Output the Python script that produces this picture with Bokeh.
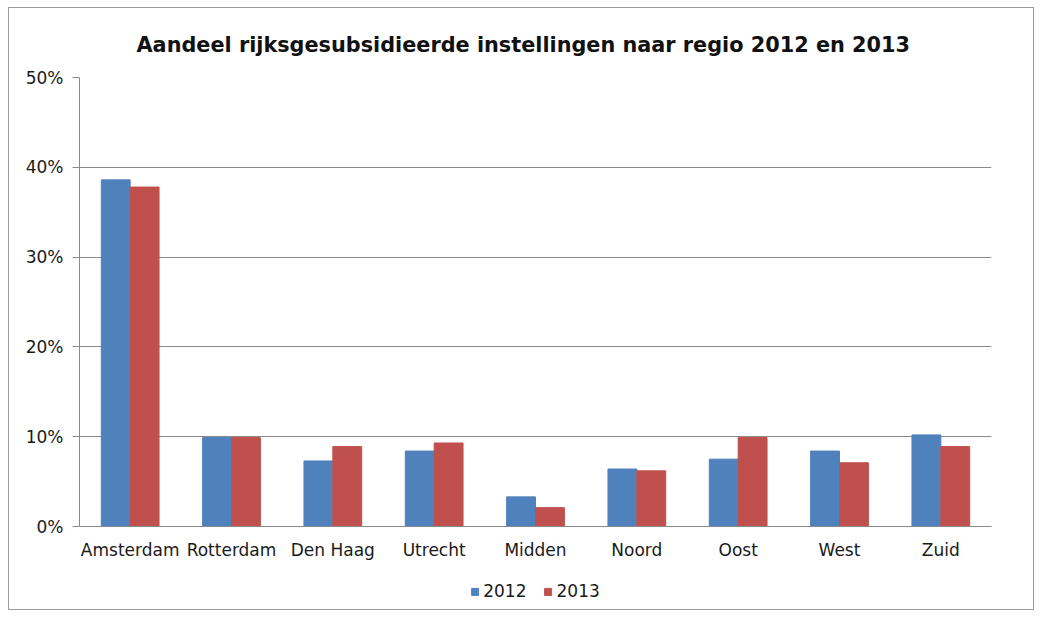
from bokeh.plotting import figure
from bokeh.layouts import column
from bokeh.models import (ColumnDataSource, NumeralTickFormatter, FixedTicker, Legend,
                          LegendItem, Title, Range1d)
from bokeh.transform import dodge
from bokeh.embed import file_html
from bokeh.resources import INLINE

regions = ["Amsterdam", "Rotterdam", "Den Haag", "Utrecht", "Midden", "Noord", "Oost", "West", "Zuid"]
share_2012 = [0.386, 0.099, 0.073, 0.084, 0.033, 0.064, 0.075, 0.084, 0.102]
share_2013 = [0.378, 0.099, 0.089, 0.093, 0.021, 0.062, 0.099, 0.071, 0.089]
series_names = ["2012", "2013"]
y_ticks = [0.0, 0.1, 0.2, 0.3, 0.4, 0.5]
title_text = "Aandeel rijksgesubsidieerde instellingen naar regio 2012 en 2013"

source = ColumnDataSource(dict(region=regions, y2012=share_2012, y2013=share_2013))

FONT = "DejaVu Sans"
GRID = "#8a8a8a"
TXT = "#1a1a1a"
BLUE = "#4f81bd"
RED = "#c0504d"

p = figure(x_range=regions, y_range=Range1d(0, 0.5), width=1024, height=565,
           output_backend="svg", toolbar_location=None,
           min_border_left=70, min_border_right=20,
           min_border_top=69, min_border_bottom=47, title=None)
p.x_range.range_padding = 0

r1 = p.vbar(x=dodge("region", -0.1425, range=p.x_range), top="y2012", width=0.285,
            source=source, fill_color=BLUE, line_color=BLUE)
r2 = p.vbar(x=dodge("region", 0.1425, range=p.x_range), top="y2013", width=0.285,
            source=source, fill_color=RED, line_color=RED)

p.yaxis.ticker = FixedTicker(ticks=y_ticks)
p.yaxis.formatter = NumeralTickFormatter(format="0%")
p.yaxis.major_tick_out = 7
p.yaxis.major_tick_in = 0
p.yaxis.minor_tick_line_color = None
p.yaxis.axis_line_color = GRID
p.yaxis.major_tick_line_color = GRID
p.yaxis.major_label_text_font = FONT
p.yaxis.major_label_text_font_size = "17px"
p.yaxis.major_label_text_color = TXT
p.yaxis.major_label_standoff = 9

p.xaxis.major_tick_line_color = None
p.xaxis.major_tick_out = 0
p.xaxis.major_tick_in = 0
p.xaxis.axis_line_color = GRID
p.xaxis.major_label_text_font = FONT
p.xaxis.major_label_text_font_size = "17px"
p.xaxis.major_label_text_color = TXT
p.xaxis.major_label_standoff = 13

p.xgrid.grid_line_color = None
p.ygrid.grid_line_color = GRID
p.ygrid.grid_line_width = 1
p.outline_line_color = None

t = Title(text=title_text, align="left", text_font=FONT, text_font_size="20.8px",
          text_font_style="bold", text_color="#111111", offset=57, standoff=42)
p.add_layout(t, "above")

# legend strip below the chart (proxy renderers lie outside the visible range)
lf = figure(x_range=series_names, y_range=Range1d(1, 2), width=1024, height=36,
            output_backend="svg", toolbar_location=None,
            x_axis_location=None, y_axis_location=None,
            min_border_left=0, min_border_right=42, min_border_top=0, min_border_bottom=0)
lf.grid.grid_line_color = None
lf.outline_line_color = None
lsrc = ColumnDataSource(dict(name=series_names, top=[0, 0]))
lr1 = lf.vbar(x="name", top="top", width=0.1, source=lsrc, fill_color=BLUE, line_color=BLUE)
lr2 = lf.vbar(x="name", top="top", width=0.1, source=lsrc, fill_color=RED, line_color=RED)
legend = Legend(items=[LegendItem(label=series_names[0], renderers=[lr1], index=0),
                       LegendItem(label=series_names[1], renderers=[lr2], index=1)],
                orientation="horizontal", location="center",
                border_line_color=None, background_fill_alpha=0,
                label_text_font=FONT, label_text_font_size="17px", label_text_color=TXT,
                glyph_width=9, glyph_height=9, spacing=17, label_standoff=4,
                padding=0, margin=0)
lf.add_layout(legend, "center")

inner = column(p, lf, spacing=0, styles={"outline": "1px solid #9a9a9a"})
layout = column(inner, styles={"padding": "8px 0px 0px 9px"})

open("out.html", "w").write(file_html(layout, INLINE))
